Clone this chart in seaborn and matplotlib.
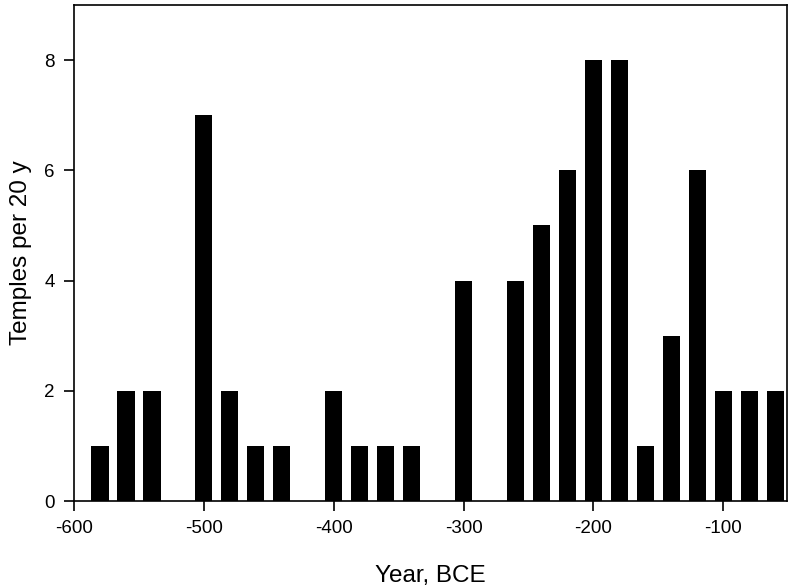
import numpy as np
import pandas as pd
import matplotlib
matplotlib.use('Agg')
import matplotlib.pyplot as plt
import seaborn as sns

## DATA
years = [-580, -560, -540, -500, -480, -460, -440, -400, -380, -360, -340, -300,
         -260, -240, -220, -200, -180, -160, -140, -120, -100, -80, -60]
temples = [1, 2, 2, 7, 2, 1, 1, 2, 1, 1, 1, 4,
           4, 5, 6, 8, 8, 1, 3, 6, 2, 2, 2]

df = pd.DataFrame({'year': years, 'temples': temples})

## STYLE
sns.set_style('white')
plt.rcParams['font.family'] = ['Liberation Sans', 'DejaVu Sans']
plt.rcParams['axes.unicode_minus'] = False
plt.rcParams['text.color'] = 'black'
plt.rcParams['axes.labelcolor'] = 'black'
plt.rcParams['xtick.color'] = 'black'
plt.rcParams['ytick.color'] = 'black'

fig = plt.figure(figsize=(7.88, 5.87), dpi=100)
ax = fig.add_axes([0.094, 0.1465, 0.9047, 0.845])

sns.barplot(data=df, x='year', y='temples', native_scale=True, width=0.66,
            color='black', saturation=1, edgecolor='black', linewidth=0, ax=ax)

#### Axes format
ax.set_xlim(-600, -51)
ax.set_ylim(0, 9)
ax.set_xticks([-600, -500, -400, -300, -200, -100])
ax.set_yticks([0, 2, 4, 6, 8])
ax.tick_params(axis='both', direction='out', length=7, width=1.2, labelsize=13.5,
               pad=7, colors='black', bottom=True, left=True)
for s in ax.spines.values():
    s.set_color('black')
    s.set_linewidth(1.2)

ax.set_xlabel('Year, BCE', fontsize=17.5, labelpad=20)
ax.set_ylabel('Temples per 20 y', fontsize=17.5, labelpad=9)

fig.savefig('out.png', dpi=100, facecolor='white')
